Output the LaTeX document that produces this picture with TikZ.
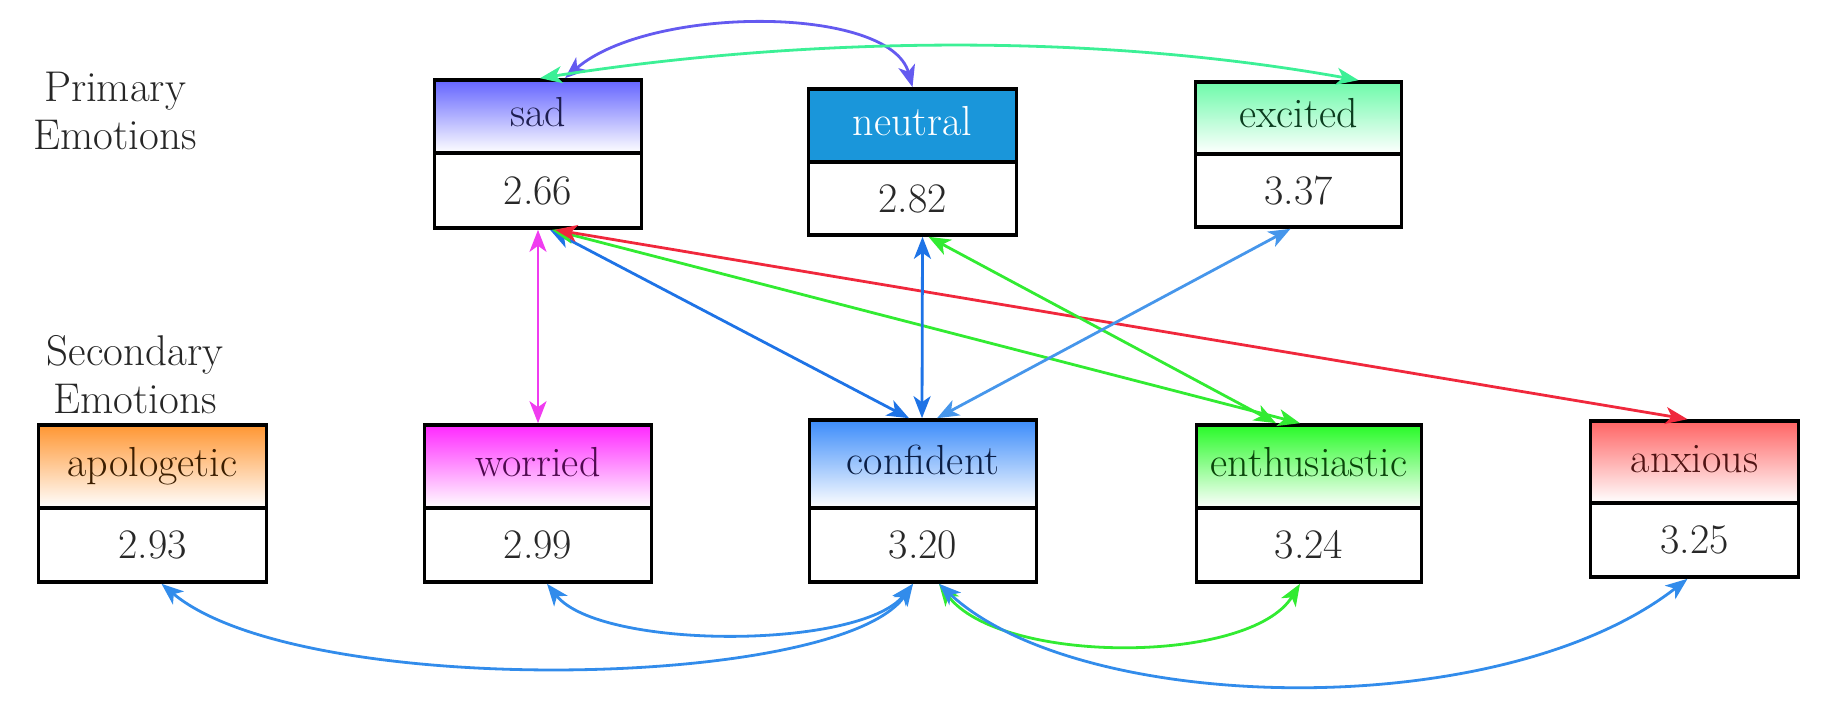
\documentclass[tikz,border=0pt]{standalone}
\usepackage{fontspec}
\usetikzlibrary{arrows.meta}
\definecolor{sadc}{RGB}{100,100,255}
\definecolor{neuc}{RGB}{26,150,218}
\definecolor{excc}{RGB}{110,250,170}
\definecolor{apoc}{RGB}{255,150,50}
\definecolor{worc}{RGB}{255,40,255}
\definecolor{conc}{RGB}{60,140,250}
\definecolor{entc}{RGB}{40,250,40}
\definecolor{anxc}{RGB}{255,100,100}
\definecolor{sadt}{RGB}{30,30,80}
\definecolor{exct}{RGB}{10,60,30}
\definecolor{apot}{RGB}{60,30,0}
\definecolor{wort}{RGB}{80,10,80}
\definecolor{cont}{RGB}{10,30,70}
\definecolor{entt}{RGB}{10,70,10}
\definecolor{anxt}{RGB}{80,20,20}
\definecolor{valt}{RGB}{40,40,40}
\definecolor{lviolet}{RGB}{100,90,240}
\definecolor{lmint}{RGB}{60,240,150}
\definecolor{lmag}{RGB}{240,60,240}
\definecolor{lblue}{RGB}{30,115,230}
\definecolor{lblue2}{RGB}{70,150,235}
\definecolor{lblue3}{RGB}{50,140,235}
\definecolor{lgreen}{RGB}{50,235,50}
\definecolor{lred}{RGB}{240,40,60}
\begin{document}
\begin{tikzpicture}[x=1pt,y=-1pt,
  box/.style={draw=black, line width=3.6pt, inner sep=0pt,
    font=\fontsize{42}{48}\selectfont, text height=28pt, text depth=8pt},
  valbox/.style={box, fill=white, text=valt, text height=27pt, text depth=0pt},
  side/.style={font=\fontsize{43}{48}\selectfont, align=center, inner sep=0pt, text=black!85},
  tipx/.tip={Stealth[length=22pt,width=17pt,inset=6pt]},
  conn/.style={line width=2.8pt, tipx-tipx}]
\useasboundingbox (0,0) rectangle (1829,717);

% primary row
\node[box, minimum width=207pt, minimum height=73pt, top color=sadc, bottom color=white, text=sadt] (sadh) at (538,116.5) {sad};
\node[valbox, minimum width=207pt, minimum height=75pt] (sadv) at (538,190.5) {2.66};
\node[box, minimum width=208pt, minimum height=73pt, fill=neuc, text=white] (neuh) at (912.5,125.5) {neutral};
\node[valbox, minimum width=208pt, minimum height=73pt] (neuv) at (912.5,198.5) {2.82};
\node[box, minimum width=206pt, minimum height=72pt, top color=excc, bottom color=white, text=exct] (exch) at (1298.5,118) {excited};
\node[valbox, minimum width=206pt, minimum height=73pt] (excv) at (1298.5,190.5) {3.37};

% secondary row
\node[box, minimum width=228pt, minimum height=83pt, top color=apoc, bottom color=white, text=apot] (apoh) at (152.5,466.5) {apologetic};
\node[valbox, minimum width=228pt, minimum height=74pt] (apov) at (152.5,545) {2.93};
\node[box, minimum width=227pt, minimum height=83pt, top color=worc, bottom color=white, text=wort] (worh) at (538,466.5) {worried};
\node[valbox, minimum width=227pt, minimum height=74pt] (worv) at (538,545) {2.99};
\node[box, minimum width=227pt, minimum height=88pt, top color=conc, bottom color=white, text=cont] (conh) at (923,464) {confident};
\node[valbox, minimum width=227pt, minimum height=74pt] (conv) at (923,545) {3.20};
\node[box, minimum width=225pt, minimum height=83pt, top color=entc, bottom color=white, text=entt] (enth) at (1309,466.5) {enthusiastic};
\node[valbox, minimum width=225pt, minimum height=74pt] (entv) at (1309,545) {3.24};
\node[box, minimum width=208pt, minimum height=82pt, top color=anxc, bottom color=white, text=anxt] (anxh) at (1694.5,462) {anxious};
\node[valbox, minimum width=208pt, minimum height=74pt] (anxv) at (1694.5,540) {3.25};

% side labels
\node[side] (prim) at (115,111) {Primary\\Emotions};
\node[side] (secd) at (135,375) {Secondary\\Emotions};

% top connectors
\draw[conn, lviolet] ([xshift=27pt]sadh.north) .. controls (650,5) and (890,5) .. (neuh.north);
\draw[conn, lmint] ([xshift=2pt]sadh.north) .. controls (750,45) and (1050,25) .. ([xshift=60pt]exch.north);

% middle connectors
\draw[conn, lmag] (sadv.south) -- (worh.north);
\draw[conn, lblue] ([xshift=12pt]sadv.south) -- ([xshift=-14pt]conh.north);
\draw[conn, lgreen] ([xshift=14pt]sadv.south) -- ([xshift=-9pt]enth.north);
\draw[conn, lred] ([xshift=17pt]sadv.south) -- ([xshift=-7pt]anxh.north);
\draw[conn, lblue] ([xshift=10pt]neuv.south) -- ([xshift=-1pt]conh.north);
\draw[conn, lgreen] ([xshift=16pt]neuv.south) -- ([xshift=-33pt]enth.north);
\draw[conn, lblue2] ([xshift=-8pt]excv.south) -- ([xshift=14pt]conh.north);

% bottom connectors
\draw[conn, lblue3] ([xshift=-10pt]conv.south) .. controls (840,690) and (300,700) .. ([xshift=9pt]apov.south);
\draw[conn, lblue3] ([xshift=-10pt]conv.south) .. controls (860,650) and (600,650) .. ([xshift=9pt]worv.south);
\draw[conn, lgreen] ([xshift=16pt]conv.south) .. controls (1000,665) and (1250,665) .. ([xshift=-9pt]entv.south);
\draw[conn, lblue3] ([xshift=16pt]conv.south) .. controls (1080,715) and (1500,725) .. ([xshift=-7pt]anxv.south);
\end{tikzpicture}
\end{document}
